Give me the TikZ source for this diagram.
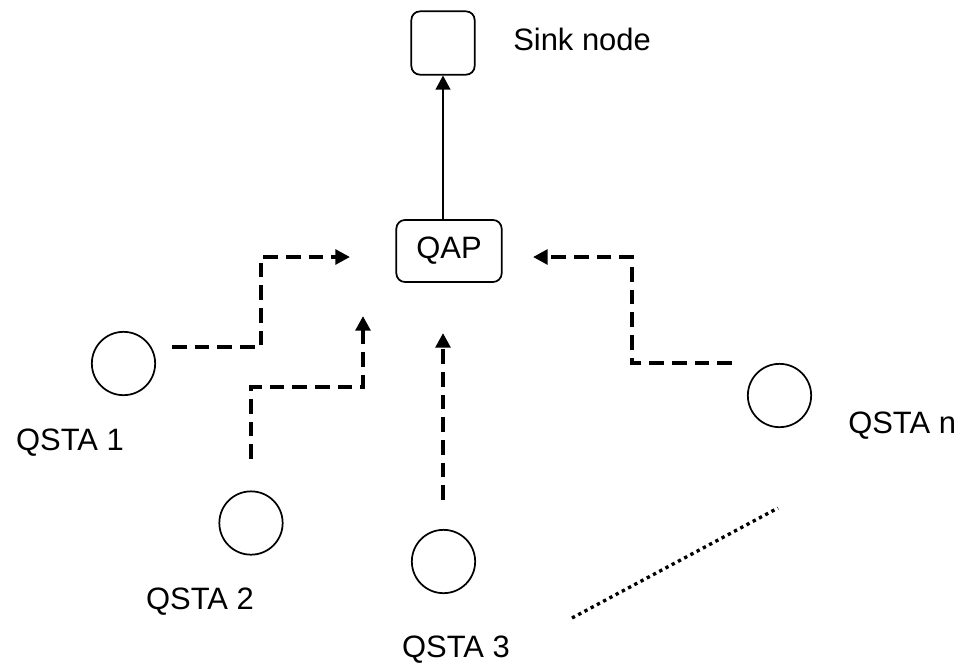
\documentclass[tikz,border=0pt]{standalone}
\usepackage{fontspec}
\setmainfont{Liberation Sans}
\usetikzlibrary{arrows.meta}

\begin{document}
\begin{tikzpicture}[x=0.75pt,y=-0.75pt,
    station/.style={circle,draw,line width=1.3pt,minimum size=47.5pt,inner sep=0pt},
    box/.style={rectangle,rounded corners=6.5pt,draw,line width=1.3pt,inner sep=0pt},
    tag/.style={font=\fontsize{23.2}{28}\selectfont,inner sep=0pt,anchor=base},
    flow/.style={-{Triangle[length=11pt,width=11pt]},line width=3pt,dash pattern=on 11pt off 6pt},
    uplink/.style={-{Triangle[length=10.5pt,width=11pt]},line width=1.3pt}]
    \useasboundingbox (0,0) rectangle (964,662);

    \node[box, minimum width=47.5pt, minimum height=47.5pt] (sink) at (443,43) {};
    \node[box, minimum width=79pt, minimum height=46.5pt] (qap) at (449,251) {};
    \node[tag] (qaplabel) at (449,258) {QAP};
    \node[tag, anchor=base west] (sinklabel) at (513,50) {Sink node};

    \node[station] (sta1) at (123.5,363.5) {};
    \node[station] (sta2) at (251,523) {};
    \node[station] (sta3) at (443.5,561.5) {};
    \node[station] (stan) at (779.5,395.5) {};

    \node[tag] (sta1label) at (70,450) {QSTA 1};
    \node[tag] (sta2label) at (200,609) {QSTA 2};
    \node[tag] (sta3label) at (456,657) {QSTA 3};
    \node[tag, anchor=base west] (stanlabel) at (848,433) {QSTA n};

    % ends of the dashed links
    \coordinate (s1) at (172,347);
    \coordinate (e1) at (350,257);
    \coordinate (s2) at (251,459);
    \coordinate (e2) at (363,316);
    \coordinate (s3) at (443,500);
    \coordinate (e3) at (443,333);
    \coordinate (sn) at (732,363);
    \coordinate (en) at (533,257);
    \coordinate (d1) at (572,618);
    \coordinate (d2) at (778,508);

    \draw[uplink] (qap.north -| sink.south) -- (sink.south);

    \draw[flow] (s1) -- ++(89,0) |- (e1);
    \draw[flow] (s2) -- ++(0,-72) -| (e2);
    \draw[flow] (s3) -- (e3);
    \draw[flow] (sn) -- ++(-100,0) |- (en);

    \draw[line width=2.5pt, dash pattern=on 2.5pt off 2.8pt] (d1) -- (d2);
\end{tikzpicture}
\end{document}
